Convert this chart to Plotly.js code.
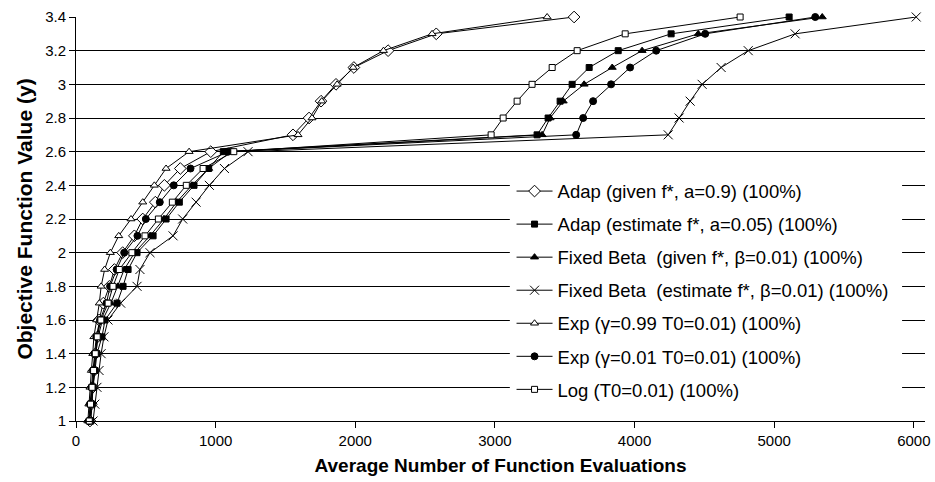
<!DOCTYPE html>
<html>
<head>
<meta charset="utf-8">
<script src="https://cdn.plot.ly/plotly-3.0.1.min.js"></script>
<style>html,body{margin:0;padding:0;background:#fff;}#chart{width:935px;height:482px;}</style>
</head>
<body>
<div id="chart"></div>
<script>
// Objective function value levels (y)
const levels = [1.0,1.1,1.2,1.3,1.4,1.5,1.6,1.7,1.8,1.9,2.0,2.1,2.2,2.3,2.4,2.5,2.6,2.7,2.8,2.9,3.0,3.1,3.2,3.3,3.4];

// Average number of function evaluations needed to reach each level
const adapGiven    = [100,110,120,130,140,155,165,195,239,275,334,418,478,568,633,747,965,1554,1669,1755,1862,1990,2235,2580,3567];
const adapEstimate = [107,115,122,136,150,186,208,294,337,373,437,552,645,740,845,950,1055,3302,3381,3467,3553,3675,3883,4262,5107];
const fbGiven      = [98,108,118,130,142,158,190,250,300,345,420,530,630,720,830,950,1110,3338,3395,3489,3639,3840,4054,4456,5344];
const fbEstimate   = [122,135,150,165,180,200,229,320,437,458,530,695,764,860,955,1063,1232,4241,4319,4398,4484,4620,4814,5150,6017];
const exp099       = [85,92,100,110,120,128,148,167,180,205,246,306,394,478,561,645,810,1590,1690,1760,1870,1985,2202,2550,3374];
const exp001       = [92,100,110,122,132,145,172,218,244,291,345,440,500,600,700,820,1090,3582,3632,3703,3832,3968,4155,4506,5294];
const logT         = [95,104,115,126,138,152,178,230,265,310,400,494,590,690,790,910,1130,2973,3059,3159,3266,3410,3589,3933,4756];

const seriesNames = [
  "Adap (given f*, a=0.9) (100%)",
  "Adap (estimate f*, a=0.05) (100%)",
  "Fixed Beta  (given f*, \u03b2=0.01) (100%)",
  "Fixed Beta  (estimate f*, \u03b2=0.01) (100%)",
  "Exp (\u03b3=0.99 T0=0.01) (100%)",
  "Exp (\u03b3=0.01 T0=0.01) (100%)",
  "Log (T0=0.01) (100%)"
];
const seriesData = [adapGiven, adapEstimate, fbGiven, fbEstimate, exp099, exp001, logT];

const markerStyles = [
  {symbol:'diamond', size:9, color:'#fff', line:{color:'#000', width:1}},
  {symbol:'square', size:6, color:'#000', line:{color:'#000', width:1}},
  {symbol:'triangle-up', size:7, color:'#000', line:{color:'#000', width:1}},
  {symbol:'x-thin-open', size:9, color:'#000', line:{color:'#000', width:1}},
  {symbol:'triangle-up', size:7, color:'#fff', line:{color:'#000', width:1}},
  {symbol:'circle', size:7, color:'#000', line:{color:'#000', width:1}},
  {symbol:'square', size:6, color:'#fff', line:{color:'#000', width:1}}
];

const FONT = '"Liberation Sans", Arial, sans-serif';

const traces = seriesData.map((xs, i) => ({
  type: 'scatter',
  mode: 'lines+markers',
  x: xs,
  y: levels,
  name: seriesNames[i],
  legendgroup: 'g' + i,
  line: {color: '#000', width: 1},
  marker: markerStyles[i],
  cliponaxis: false
}));

const layout = {
  width: 935, height: 482,
  margin: {l: 76, r: 10, t: 17, b: 61},
  paper_bgcolor: '#fff', plot_bgcolor: '#fff',
  font: {family: FONT, color: '#000', size: 15},
  showlegend: true,
  legend: {
    x: 0.513, y: 0.615, xanchor: 'left', yanchor: 'top',
    bgcolor: '#fff', borderwidth: 0,
    font: {family: FONT, size: 18.5, color: '#000'},
    traceorder: 'grouped', tracegroupgap: 6,
    itemwidth: 36
  },
  shapes: [{
    type: 'rect', xref: 'paper', yref: 'paper',
    x0: 0.511, x1: 0.973, y0: 0.04, y1: 0.621,
    fillcolor: '#fff', line: {width: 0}, layer: 'above'
  }],
  xaxis: {
    range: [0, 6080], dtick: 1000, tick0: 0,
    showgrid: false, zeroline: false,
    showline: true, linecolor: '#000', linewidth: 1,
    ticks: 'outside', ticklen: 6, tickcolor: '#000',
    tickfont: {family: FONT, size: 15},
    title: {text: 'Average Number of Function Evaluations', font: {family: FONT, size: 19, weight: 'bold'}, standoff: 10}
  },
  yaxis: {
    range: [1, 3.4], dtick: 0.2, tick0: 1,
    showgrid: true, gridcolor: '#000', gridwidth: 1,
    zeroline: false,
    showline: true, linecolor: '#000', linewidth: 1,
    ticks: 'outside', ticklen: 6, tickcolor: '#000',
    tickfont: {family: FONT, size: 15},
    title: {text: 'Objective Function Value (y)', font: {family: FONT, size: 21, weight: 'bold'}, standoff: 6}
  }
};

Plotly.newPlot('chart', traces, layout, {displayModeBar: false, staticPlot: true});
</script>
</body>
</html>
